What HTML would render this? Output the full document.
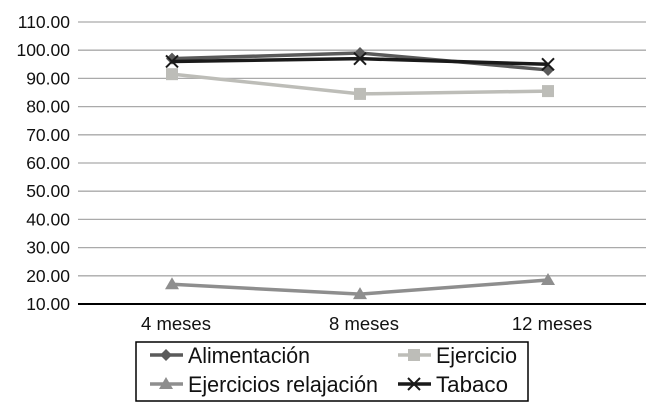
<!DOCTYPE html>
<html><head><meta charset="utf-8"><style>
body{margin:0;background:#fff;}
text{font-family:"Liberation Sans",sans-serif;fill:#111;}
</style></head><body>
<svg id="c" width="646" height="412"></svg>
<script>
const categories=["4 meses","8 meses","12 meses"];
const yTicks=[10,20,30,40,50,60,70,80,90,100,110];
const alimentacion=[97,99,93];
const ejercicio=[91.5,84.5,85.5];
const relajacion=[17,13.5,18.5];
const tabaco=[96,97,95];
const ns="http://www.w3.org/2000/svg";
const svg=document.getElementById('c');
const x=i=>172+i*188;
const y=v=>304-(v-10)*2.82;
function el(t,a,p){const e=document.createElementNS(ns,t);for(const k in a)e.setAttribute(k,a[k]);(p||svg).appendChild(e);return e;}
yTicks.forEach(v=>{
 const g=el('line',{x1:78,x2:646,y1:y(v),y2:y(v),stroke:v===10?'#000':'#aaa','stroke-width':v===10?2:1.3});
 
 
 const t=el('text',{x:70,y:y(v)+6,'text-anchor':'end','font-size':17.5});
 t.textContent=v.toFixed(2);
 
 
});
categories.forEach((c,i)=>{
 const t=el('text',{x:x(i)+4,y:330,'text-anchor':'middle','font-size':18.5});
 t.textContent=c;
 
 
});
function marker(type,cx,cy,col,g){
 if(type==='diamond')el('polygon',{points:`${cx},${cy-6} ${cx+6},${cy} ${cx},${cy+6} ${cx-6},${cy}`,fill:col},g);
 else if(type==='square')el('rect',{x:cx-6,y:cy-6,width:12,height:12,fill:col},g);
 else if(type==='tri')el('polygon',{points:`${cx},${cy-7} ${cx+7},${cy+5} ${cx-7},${cy+5}`,fill:col},g);
 else {el('line',{x1:cx-6,y1:cy-6,x2:cx+6,y2:cy+6,stroke:col,'stroke-width':2},g);el('line',{x1:cx-6,y1:cy+6,x2:cx+6,y2:cy-6,stroke:col,'stroke-width':2},g);}
}
const series=[
 {name:'ejercicio',d:ejercicio,col:'#bdbdb8',m:'square'},
 {name:'relajacion',d:relajacion,col:'#8e8e8e',m:'tri'},
 {name:'alimentacion',d:alimentacion,col:'#5a5a5a',m:'diamond'},
 {name:'tabaco',d:tabaco,col:'#1a1a1a',m:'x'}];
series.forEach(s=>{
 const g=el('g',{});
 
 
 el('polyline',{points:s.d.map((v,i)=>x(i)+','+y(v)).join(' '),fill:'none',stroke:s.col,'stroke-width':3.5},g);
 s.d.forEach((v,i)=>marker(s.m,x(i),y(v),s.col,g));
});
const lg=el('g',{});


el('rect',{x:136,y:342,width:392,height:59,fill:'#fff',stroke:'#000','stroke-width':1.5},lg);
const leg=[['Alimentación','#5a5a5a','diamond',150,355,122],['Ejercicio','#bdbdb8','square',398,355,81],['Ejercicios relajación','#8e8e8e','tri',150,384,190],['Tabaco','#1a1a1a','x',398,384,72]];
leg.forEach(l=>{
 const g=el('g',{},lg);
 
 
 el('line',{x1:l[3],x2:l[3]+33,y1:l[4],y2:l[4],stroke:l[1],'stroke-width':3.5},g);
 marker(l[2],l[3]+16,l[4],l[1],g);
 const t=el('text',{x:l[3]+38,y:l[4]+8,'font-size':22,textLength:l[5],lengthAdjust:'spacingAndGlyphs'},g);
 t.textContent=l[0];
});
</script>
</body></html>
